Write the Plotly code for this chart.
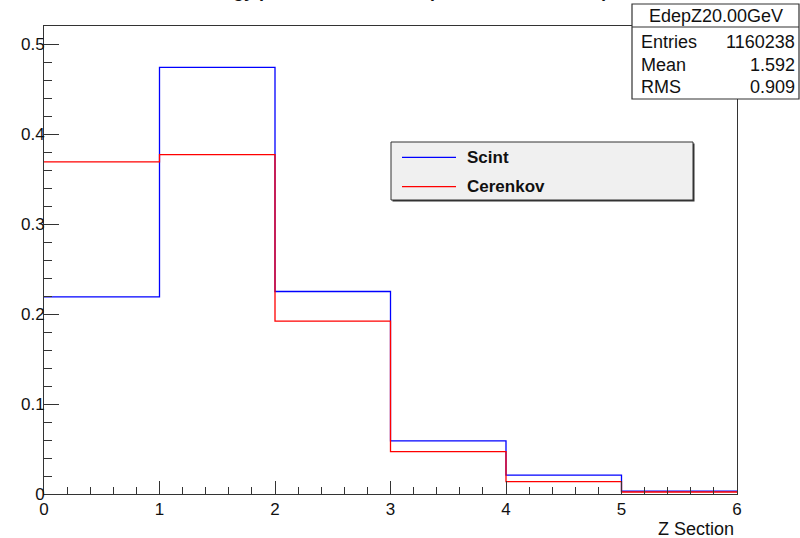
import plotly.graph_objects as go

# ---- data ----
bin_edges = [0, 1, 2, 3, 4, 5, 6]
scint = [0.219, 0.474, 0.225, 0.059, 0.021, 0.0033]
cerenkov = [0.369, 0.377, 0.192, 0.047, 0.0137, 0.0022]
series_names = ["Scint", "Cerenkov"]
series_colors = ["#0000ff", "#ff0000"]
stats_title = "EdepZ20.00GeV"
stats_labels = ["Entries", "Mean", "RMS"]
stats_values = ["1160238", "1.592", "0.909"]
title_text = "Energy profile vs Z section (Scint and Cerenkov)"
x_title = "Z Section"

W, H = 800, 538
L, R, T, B = 44, 63, 26, 44
PW, PH = W - L - R, H - T - B
FONT = "Liberation Sans, Arial, sans-serif"
AX = "#333333"


def px(x):
    return (x - L) / PW


def py(y):
    return (H - B - y) / PH


fig = go.Figure()
for name, vals, col in zip(series_names, [scint, cerenkov], series_colors):
    fig.add_trace(go.Scatter(
        x=bin_edges, y=vals + [vals[-1]], mode="lines", name=name,
        line=dict(color=col, width=1.3, shape="hv"), showlegend=False,
        hoverinfo="skip"))

shapes = []
annotations = []

# legend box (manual, ROOT style)
lx0, lx1, ly0, ly1 = 391, 693, 142, 200
shapes.append(dict(type="rect", xref="paper", yref="paper",
                   x0=px(lx0 + 1.5), x1=px(lx1 + 1.5), y0=py(ly0 + 1.5), y1=py(ly1 + 1.5),
                   fillcolor="#333333", line=dict(width=0), layer="above"))
shapes.append(dict(type="rect", xref="paper", yref="paper",
                   x0=px(lx0), x1=px(lx1), y0=py(ly0), y1=py(ly1),
                   fillcolor="#f0f0f0", line=dict(color="#333333", width=1), layer="above"))
for i, (name, col) in enumerate(zip(series_names, series_colors)):
    yy = 157.3 + i * 29.4
    shapes.append(dict(type="line", xref="paper", yref="paper",
                       x0=px(402), x1=px(456), y0=py(yy), y1=py(yy),
                       line=dict(color=col, width=1.2), layer="above"))
    annotations.append(dict(text="<b>%s</b>" % name, xref="paper", yref="paper",
                            x=px(465), y=py(yy), xanchor="left", yanchor="middle",
                            showarrow=False, font=dict(family=FONT, size=17, color="#111111")))

# stats box
sx0, sx1, sy0, sy1, ssep = 632, 799, 4, 99, 27
shapes.append(dict(type="rect", xref="paper", yref="paper",
                   x0=px(sx0), x1=px(sx1), y0=py(sy0), y1=py(sy1),
                   fillcolor="white", line=dict(color="#333333", width=1.2), layer="above"))
shapes.append(dict(type="line", xref="paper", yref="paper",
                   x0=px(sx0), x1=px(sx1), y0=py(ssep), y1=py(ssep),
                   line=dict(color="#333333", width=1.2), layer="above"))
annotations.append(dict(text=stats_title, xref="paper", yref="paper",
                        x=px((sx0 + sx1) / 2), y=py(15.5), xanchor="center", yanchor="middle",
                        showarrow=False, font=dict(family=FONT, size=18, color="#111111")))
for i, (lab, val) in enumerate(zip(stats_labels, stats_values)):
    yy = 41.5 + i * 23
    annotations.append(dict(text=lab, xref="paper", yref="paper",
                            x=px(639), y=py(yy), xanchor="left", yanchor="middle",
                            showarrow=False, font=dict(family=FONT, size=18, color="#111111")))
    annotations.append(dict(text=val, xref="paper", yref="paper",
                            x=px(797), y=py(yy), xanchor="right", yanchor="middle",
                            showarrow=False, font=dict(family=FONT, size=18, color="#111111")))

# title (mostly cut off at top of canvas)
annotations.append(dict(text="<b>%s</b>" % title_text, xref="paper", yref="paper",
                        x=px(400), y=py(3), xanchor="center", yanchor="bottom",
                        showarrow=False, font=dict(family=FONT, size=18, color="#111111")))
# x-axis title
annotations.append(dict(text=x_title, xref="paper", yref="paper",
                        x=px(736), y=py(529), xanchor="right", yanchor="middle",
                        showarrow=False, font=dict(family=FONT, size=18, color="#111111")))

fig.update_layout(
    width=W, height=H, margin=dict(l=L, r=R, t=T, b=B),
    paper_bgcolor="white", plot_bgcolor="white",
    showlegend=False, shapes=shapes, annotations=annotations,
    font=dict(family=FONT, size=17, color="#111111"),
    xaxis=dict(range=[0, 6], dtick=1, tick0=0, ticks="inside", ticklen=13,
               tickcolor=AX, tickwidth=1, showline=True, linecolor=AX, linewidth=1,
               mirror=True, showgrid=False, zeroline=False,
               minor=dict(dtick=0.2, ticks="inside", ticklen=7, tickcolor=AX, showgrid=False),
               tickfont=dict(family=FONT, size=17, color="#111111")),
    yaxis=dict(range=[0, 0.52], dtick=0.1, tick0=0, ticks="inside", ticklen=15,
               tickcolor=AX, tickwidth=1, showline=True, linecolor=AX, linewidth=1,
               mirror=True, showgrid=False, zeroline=False, ticklabelstandoff=-5,
               minor=dict(dtick=0.02, ticks="inside", ticklen=8, tickcolor=AX, showgrid=False),
               tickfont=dict(family=FONT, size=17, color="#111111")),
)

fig.write_html(
    "out.html",
    config={"displayModeBar": False},
    post_script="document.body.style.margin='0';document.body.style.overflow='hidden';",
)
